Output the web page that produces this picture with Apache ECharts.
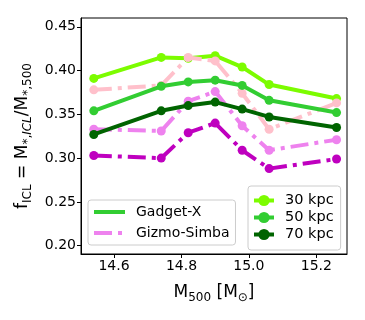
<!DOCTYPE html>
<html>
<head>
<meta charset="utf-8">
<script src="https://cdn.jsdelivr.net/npm/echarts@6/dist/echarts.min.js"></script>
<style>
  html, body { margin: 0; padding: 0; background: #fff; }
  #chart { width: 365px; height: 320px; }
</style>
</head>
<body>
<div id="chart"></div>
<script>
// halo masses (log M500)
const masses = [14.54, 14.74, 14.82, 14.90, 14.98, 15.06, 15.26];

// f_ICL per aperture
const gadget30 = [0.391, 0.415, 0.414, 0.417, 0.404, 0.384, 0.368];
const gadget50 = [0.354, 0.382, 0.387, 0.389, 0.383, 0.366, 0.352];
const gadget70 = [0.327, 0.354, 0.360, 0.364, 0.356, 0.347, 0.335];
const simba30 = [0.378, 0.383, 0.415, 0.411, 0.374, 0.333, 0.363];
const simba50 = [0.333, 0.331, 0.365, 0.376, 0.337, 0.309, 0.321];
const simba70 = [0.303, 0.300, 0.329, 0.340, 0.309, 0.288, 0.299];

const xTicks = [14.6, 14.8, 15.0, 15.2];
const yTicks = [0.20, 0.25, 0.30, 0.35, 0.40, 0.45];

const FONT = 'DejaVu Sans';
const dashDot = [18, 6, 4, 6];

const chart = echarts.init(document.getElementById('chart'), null, { renderer: 'canvas' });

function pts(vals) {
    return masses.map((m, i) => [m, vals[i]]);
}

function run(name, vals, color, dashed, z) {
    return {
        name: name,
        type: 'line',
        data: pts(vals),
        symbol: 'circle',
        symbolSize: 9,
        z: z,
        lineStyle: { color: color, width: 4, type: dashed ? dashDot : 'solid' },
        itemStyle: { color: color },
        emphasis: { disabled: true },
        animation: false
    };
}

function proxy(name, color, dashed) {
    return {
        name: name,
        type: 'line',
        data: [],
        symbol: 'circle',
        symbolSize: 9,
        lineStyle: { color: color, width: 4, type: dashed ? dashDot : 'solid' },
        itemStyle: { color: color }
    };
}

const option = {
    animation: false,
    grid: {
        left: 81, top: 18, right: 18, bottom: 66,
        show: true, borderColor: '#000', borderWidth: 1, backgroundColor: 'transparent'
    },
    xAxis: {
        type: 'value',
        min: 14.502, max: 15.291,
        name: '{t|M}{s|500}{t| [M}{s|\u2299}{t|]}',
        nameLocation: 'middle',
        nameGap: 28,
        nameTextStyle: {
            rich: {
                t: { fontFamily: FONT, fontSize: 17, color: '#000', lineHeight: 22 },
                s: { fontFamily: FONT, fontSize: 12, color: '#000', verticalAlign: 'bottom', lineHeight: 18 }
            }
        },
        axisLine: { show: true, lineStyle: { color: '#000', width: 1 } },
        axisTick: { show: true, length: 4, customValues: xTicks, lineStyle: { color: '#000' } },
        axisLabel: {
            customValues: xTicks,
            fontFamily: FONT, fontSize: 14, color: '#000', margin: 5,
            formatter: v => v.toFixed(1)
        },
        splitLine: { show: false }
    },
    yAxis: {
        type: 'value',
        min: 0.1905, max: 0.46,
        name: '{t|f}{s|ICL}{t| = M}{s|*,}{si|ICL}{t|/M}{s|*,500}',
        nameLocation: 'middle',
        nameRotate: 90,
        nameGap: 42,
        nameTextStyle: {
            rich: {
                t: { fontFamily: FONT, fontSize: 17, color: '#000', lineHeight: 22 },
                s: { fontFamily: FONT, fontSize: 12, color: '#000', verticalAlign: 'bottom', lineHeight: 18 },
                si: { fontFamily: FONT, fontSize: 12, fontStyle: 'italic', color: '#000', verticalAlign: 'bottom', lineHeight: 18 }
            }
        },
        axisLine: { show: true, lineStyle: { color: '#000', width: 1 } },
        axisTick: { show: true, length: 4, customValues: yTicks, lineStyle: { color: '#000' } },
        axisLabel: {
            customValues: yTicks,
            fontFamily: FONT, fontSize: 14, color: '#000', margin: 5,
            formatter: v => v.toFixed(2)
        },
        splitLine: { show: false }
    },
    legend: [
        {
            data: ['Gadget-X', 'Gizmo-Simba'],
            orient: 'vertical',
            left: 88, top: 200,
            itemWidth: 31, itemHeight: 14, itemGap: 7,
            padding: [5, 6, 5, 4],
            borderColor: '#cccccc', borderWidth: 1, borderRadius: 3,
            backgroundColor: 'rgba(255,255,255,0.8)',
            itemStyle: { opacity: 0 },
            lineStyle: { width: 4 },
            textStyle: { fontFamily: FONT, fontSize: 14, color: '#000', padding: [0, 0, 0, 6] },
            selectedMode: false
        },
        {
            data: ['30 kpc', '50 kpc', '70 kpc'],
            orient: 'vertical',
            left: 248, top: 186,
            itemWidth: 20, itemHeight: 14, itemGap: 2,
            padding: [7, 7, 8, 4],
            borderColor: '#cccccc', borderWidth: 1, borderRadius: 3,
            backgroundColor: 'rgba(255,255,255,0.8)',
            lineStyle: { width: 4 },
            textStyle: { fontFamily: FONT, fontSize: 14.5, color: '#000', padding: [0, 0, 0, 6] },
            selectedMode: false
        }
    ],
    series: [
        run('Gadget-X 30', gadget30, '#7CFC00', false, 2),
        run('Gizmo-Simba 30', simba30, '#FFC0CB', true, 3),
        run('Gadget-X 50', gadget50, '#32CD32', false, 4),
        run('Gizmo-Simba 50', simba50, '#EE82EE', true, 5),
        run('Gadget-X 70', gadget70, '#006400', false, 6),
        run('Gizmo-Simba 70', simba70, '#BF00BF', true, 7),
        proxy('Gadget-X', '#32CD32', false),
        proxy('Gizmo-Simba', '#EE82EE', true),
        proxy('30 kpc', '#7CFC00', false),
        proxy('50 kpc', '#32CD32', false),
        proxy('70 kpc', '#006400', false)
    ]
};

chart.setOption(option);
</script>
</body>
</html>
